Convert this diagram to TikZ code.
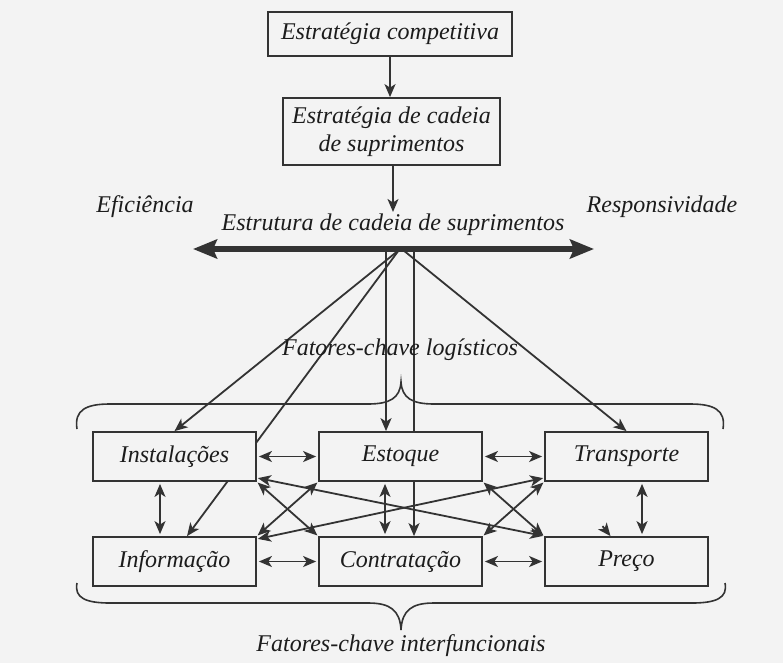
\documentclass[tikz,border=0pt]{standalone}
\usepackage{fontspec}
\setmainfont{Liberation Serif}
\usetikzlibrary{arrows.meta}
\pgfdeclarelayer{back}
\pgfsetlayers{back,main}
\definecolor{paper}{HTML}{F3F3F3}
\definecolor{ink}{HTML}{333333}
\definecolor{txt}{HTML}{1C1C1C}

\begin{document}
\begin{tikzpicture}[x=1pt,y=-1pt,
  >={Stealth[length=13pt,width=11pt,inset=3.5pt]},
  every node/.style={font=\fontsize{24}{28}\selectfont\itshape, text=txt},
  label/.style={inner sep=0pt},
  box/.style={draw=ink, line width=1.8pt, fill=paper, inner sep=0pt},
  factor/.style={box, minimum width=163pt, minimum height=49pt},
  link/.style={draw=ink, line width=1.8pt},
  pair/.style={link, <->, shorten <=2pt, shorten >=2pt},
  corner/.style={link, <->, shorten <=1pt, shorten >=1pt},
  brace/.style={draw=ink, line width=1.6pt},
  bar/.style={draw=ink, line width=6.5pt,
    {Stealth[length=24pt,width=19pt,inset=4pt]}-{Stealth[length=24pt,width=19pt,inset=4pt]}}
]
\begin{pgfonlayer}{back}
  \fill[paper] (0,0) rectangle (783,663);
\end{pgfonlayer}
\useasboundingbox (0,0) rectangle (783,663);

% strategy boxes
\node[box, minimum width=244pt, minimum height=44pt] (comp) at (390,34) {Estratégia competitiva};
\node[box, minimum width=217pt, minimum height=67pt, align=center] (sc) at (391.5,131.5)
  {Estratégia de cadeia\\de suprimentos};

% labels
\node[label] (efi) at (145,207) {Eficiência};
\node[label] (resp) at (662,207) {Responsividade};
\node[label] (estr) at (393,225) {Estrutura de cadeia de suprimentos};
\node[label] (log) at (400,350) {Fatores-chave logísticos};
\node[label] (inter) at (401,646) {Fatores-chave interfuncionais};

% logistic and cross-functional drivers
\node[factor] (inst) at (174.5,456.5) {Instalações};
\node[factor] (est) at (400.5,456.5) {Estoque};
\node[factor] (trans) at (626.5,456.5) {Transporte};
\node[factor] (info) at (174.5,561.5) {Informação};
\node[factor] (con) at (400.5,561.5) {Contratação};
\node[factor] (preco) at (626.5,561.5) {Preço};

% structure axis
\coordinate (bl) at (193,249);
\coordinate (br) at (594,249);
\coordinate (bartip) at (393,212);
\coordinate (hub) at (399,250);
\coordinate (hubr) at (403,250);
\coordinate (e1) at ([xshift=-14.5pt]est.north);
\coordinate (c1) at ([xshift=13.5pt]con.north);
\coordinate (i1) at ([xshift=12.5pt]info.north);
\coordinate (stub) at ([xshift=-24pt,yshift=10pt]preco.north);
\coordinate (stubend) at ([xshift=-16pt]preco.north);

\draw[link,->] (comp.south) -- (comp.south |- sc.north);
\draw[link,->] (sc.south -| bartip) -- (bartip);

% fan from the structure axis to the drivers
\begin{pgfonlayer}{back}
  \draw[link,->] (hub) -- (inst.north);
  \draw[link,->] (hub) -- (i1);
  \draw[link,->] (e1 |- hub) -- (e1);
  \draw[link,->] (c1 |- hub) -- (c1);
  \draw[link,->] (hubr) -- (trans.north);
\end{pgfonlayer}
\draw[bar] (bl) -- (br);

% links between drivers
\draw[pair] (inst.east) -- (est.west);
\draw[pair] (est.east) -- (trans.west);
\draw[pair] (info.east) -- (con.west);
\draw[pair] (con.east) -- (preco.west);
\draw[pair] ([xshift=-14.5pt]inst.south) -- ([xshift=-14.5pt]info.north);
\draw[pair] ([xshift=-15.5pt]est.south) -- ([xshift=-15.5pt]con.north);
\draw[pair] ([xshift=15.5pt]trans.south) -- ([xshift=15.5pt]preco.north);
\draw[corner] (inst.south east) -- (con.north west);
\draw[corner] (info.north east) -- (est.south west);
\draw[corner] (est.south east) -- (preco.north west);
\draw[corner] (con.north east) -- (trans.south west);
\draw[corner] ([yshift=4pt]inst.south east) -- (preco.north west);
\draw[corner] ([yshift=-3pt]info.north east) -- ([yshift=4pt]trans.south west);
\draw[link,->] (stub) -- (stubend);

% braces
\draw[brace] (77,429) .. controls (74,410) and (86,404) .. (110,404) -- (368,404)
  .. controls (390,404) and (400,398) .. (401,382)
  .. controls (402,398) and (412,404) .. (434,404) -- (690,404)
  .. controls (714,404) and (726,410) .. (723,429);
\draw[brace] (77,583) .. controls (74,598) and (86,603) .. (110,603) -- (368,603)
  .. controls (390,603) and (400,610) .. (401,630)
  .. controls (402,610) and (412,603) .. (434,603) -- (692,603)
  .. controls (716,603) and (728,598) .. (725,583);
\end{tikzpicture}
\end{document}
